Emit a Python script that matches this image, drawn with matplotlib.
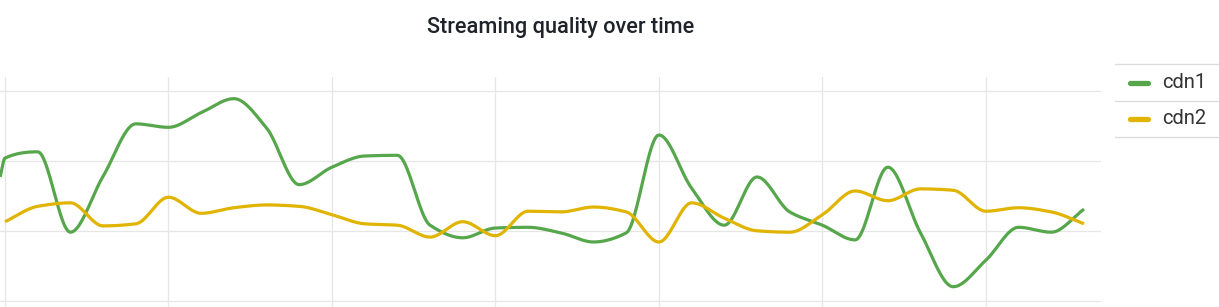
import numpy as np
import matplotlib
matplotlib.use("Agg")
import matplotlib.pyplot as plt
from matplotlib.lines import Line2D

plt.rcParams['font.family'] = ['Roboto', 'DejaVu Sans']

# ---- data ----
title = "Streaming quality over time"
series_names = ["cdn1", "cdn2"]
cdn1_t = [-0.15] + list(range(34))
cdn1 = [87.7, 90.4, 91.3, 79.8, 87.8, 95.3, 94.8, 96.9, 98.9, 94.7, 86.6,
        89.1, 90.7, 90.8, 80.8, 79.0, 80.4, 80.5, 79.7, 78.4, 79.7,
        93.7, 86.1, 80.8, 87.7, 82.7, 80.8, 78.7, 89.1, 79.7, 72.0,
        75.8, 80.5, 79.8, 83.1]
cdn2_t = list(range(34))
cdn2 = [81.3, 83.5, 84.0, 80.7, 81.0, 84.8, 82.5, 83.3, 83.7, 83.5,
        82.3, 81.0, 80.8, 79.1, 81.3, 79.3, 82.8, 82.7, 83.4, 82.7,
        78.4, 84.0, 81.8, 80.0, 79.8, 82.3, 85.7, 84.3, 86.0, 85.8,
        82.8, 83.3, 82.7, 81.0]
x_grid = [0, 5, 10, 15, 20, 25, 30]
y_grid = [70, 80, 90, 100]
colors = ["#56A64B", "#E0B400"]


def monotone_curve(x, y, n=24):
    x = np.asarray(x, float)
    y = np.asarray(y, float)
    h = np.diff(x)
    d = np.diff(y) / h
    m = np.zeros_like(y)
    m[0] = d[0]
    m[-1] = d[-1]
    for i in range(1, len(y) - 1):
        if d[i - 1] * d[i] <= 0:
            m[i] = 0.0
        else:
            w1 = 2 * h[i] + h[i - 1]
            w2 = h[i] + 2 * h[i - 1]
            m[i] = (w1 + w2) / (w1 / d[i - 1] + w2 / d[i])
    xs, ys = [], []
    for i in range(len(h)):
        t = np.linspace(0, 1, n, endpoint=False)
        h00 = 2 * t**3 - 3 * t**2 + 1
        h10 = t**3 - 2 * t**2 + t
        h01 = -2 * t**3 + 3 * t**2
        h11 = t**3 - t**2
        xs.append(x[i] + t * h[i])
        ys.append(h00 * y[i] + h10 * h[i] * m[i] + h01 * y[i + 1] + h11 * h[i] * m[i + 1])
    xs.append([x[-1]])
    ys.append([y[-1]])
    return np.concatenate(xs), np.concatenate(ys)


W, H = 1219, 307
fig = plt.figure(figsize=(W / 100, H / 100), dpi=100)
fig.patch.set_facecolor("white")

ax = fig.add_axes([0, 0, 1101 / W, 1 - 77 / H])
ax.set_xlim(-0.153, 33.52)
ax.set_ylim(69.10, 102.0)
for s in ax.spines.values():
    s.set_visible(False)
ax.set_xticks(x_grid)
ax.set_yticks(y_grid)
ax.tick_params(length=0, labelleft=False, labelbottom=False)
ax.grid(True, color="#e6e6e6", lw=0.9)
ax.set_axisbelow(True)

for (tx, vals, c) in [(cdn1_t, cdn1, colors[0]), (cdn2_t, cdn2, colors[1])]:
    xs, ys = monotone_curve(tx, vals)
    ax.plot(xs, ys, color=c, lw=2.3, solid_capstyle="butt", solid_joinstyle="round")

fig.text(561 / W, 1 - 28 / H, title, ha="center", va="center",
         fontsize=15.7, fontweight="medium", color="#1f2329")

# legend (manual, table-like)
for yy in [64, 101, 137]:
    fig.add_artist(Line2D([1115 / W, 1], [1 - yy / H, 1 - yy / H],
                          color="#dcdcdc", lw=1.0, transform=fig.transFigure))
for name, c, yy in zip(series_names, colors, [82.5, 119]):
    fig.add_artist(Line2D([1130 / W, 1148 / W], [1 - yy / H, 1 - yy / H],
                          color=c, lw=3.8, solid_capstyle="round",
                          transform=fig.transFigure))
    fig.text(1162 / W, 1 - yy / H, name, ha="left", va="center",
             fontsize=14.5, color="#333333")

fig.savefig("out.png", dpi=100, facecolor="white")
